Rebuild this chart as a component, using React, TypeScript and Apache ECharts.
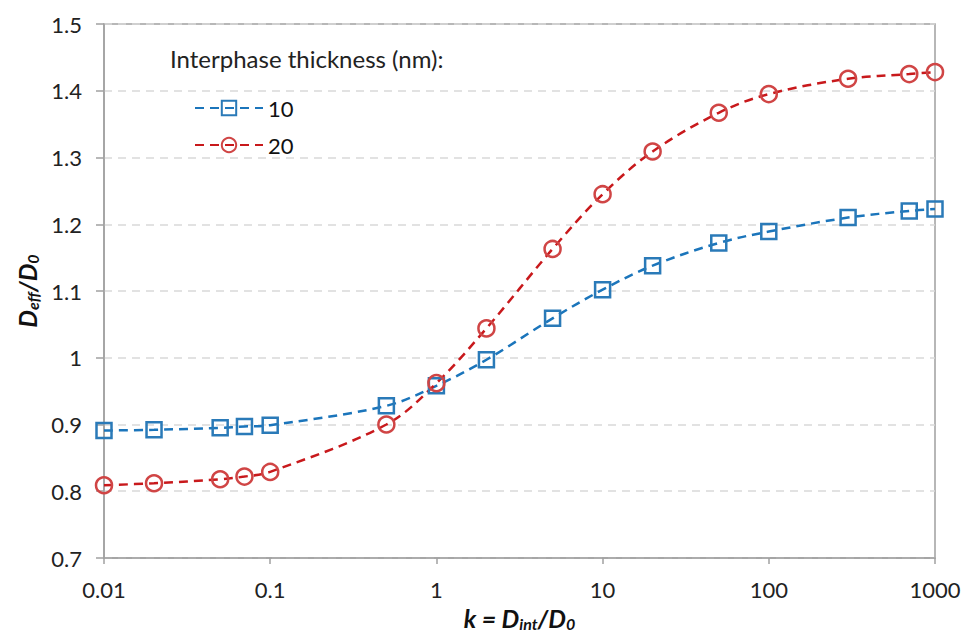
import React, { useEffect, useRef } from "react";
import * as echarts from "echarts";

const kValues = [0.01, 0.02, 0.05, 0.07, 0.1, 0.5, 1, 2, 5, 10, 20, 50, 100, 300, 700, 1000];
const series10 = [0.891, 0.892, 0.895, 0.897, 0.899, 0.928, 0.958, 0.997, 1.059, 1.102, 1.138, 1.172, 1.189, 1.21, 1.22, 1.223];
const series20 = [0.809, 0.812, 0.818, 0.822, 0.829, 0.9, 0.962, 1.044, 1.163, 1.245, 1.309, 1.367, 1.395, 1.418, 1.425, 1.428];
const seriesNames = ["10", "20"];
const legendTitle = "Interphase thickness (nm):";

const FONT = "Lato, 'Liberation Sans', sans-serif";
const BLUE_LINE = "#1b75bb";
const BLUE_MARK = "#2a7ab8";
const RED_LINE = "#c8191c";
const RED_MARK = "#d04545";

const titleRich = {
  b: { fontFamily: FONT, fontSize: 25, fontWeight: "bold", fontStyle: "italic", color: "#111", verticalAlign: "top", lineHeight: 26 },
  s: { fontFamily: FONT, fontSize: 16, fontWeight: "bold", fontStyle: "italic", color: "#111", verticalAlign: "bottom", lineHeight: 16, padding: [11, 0, 0, 0] },
};

export default function App() {
  const ref = useRef<HTMLDivElement>(null);
  useEffect(() => {
    if (!ref.current) return;
    const chart = echarts.init(ref.current, undefined, { renderer: "svg" });
    const mk = (arr: number[]) => kValues.map((k, i) => [k, arr[i]]);
    chart.setOption({
      animation: false,
      backgroundColor: "#ffffff",
      textStyle: { fontFamily: FONT },
      grid: { left: 104, right: 27, top: 24, bottom: 75, outerBoundsMode: "none", containLabel: false },
      title: {
        text: legendTitle,
        left: 170,
        top: 46,
        padding: 0,
        textStyle: { fontFamily: FONT, fontSize: 24, fontWeight: "normal", color: "#222" },
      },
      legend: {
        orient: "vertical",
        left: 194,
        top: 97,
        padding: 0,
        itemWidth: 68,
        itemHeight: 18,
        itemGap: 15,
        data: seriesNames,
        textStyle: { fontFamily: FONT, fontSize: 22, color: "#111" },
      },
      xAxis: {
        type: "log",
        logBase: 10,
        min: 0.01,
        max: 1000,
        name: "{b|k = D}{s|int}{b|/D}{s|0}",
        nameLocation: "middle",
        nameGap: 35,
        nameTextStyle: { rich: titleRich },
        axisLine: { show: true, lineStyle: { color: "#a0a0a0", width: 1.5 } },
        axisTick: { show: true, length: 6, lineStyle: { color: "#a0a0a0", width: 1.5 } },
        minorTick: { show: false },
        splitLine: { show: false },
        axisLabel: {
          fontFamily: FONT,
          fontSize: 22,
          color: "#222",
          margin: 20,
          formatter: (v: number) => String(v),
        },
      },
      yAxis: {
        type: "value",
        min: 0.7,
        max: 1.5,
        interval: 0.1,
        name: "{b|D}{s|eff}{b|/D}{s|0}",
        nameLocation: "middle",
        nameRotate: 90,
        nameGap: 60,
        nameTextStyle: { rich: titleRich },
        axisLine: { show: true, lineStyle: { color: "#a0a0a0", width: 1.5 } },
        axisTick: { show: true, length: 8, lineStyle: { color: "#a0a0a0", width: 1.5 } },
        splitLine: { show: true, lineStyle: { color: "#d9d9d9", type: [8, 6], width: 1.5 } },
        axisLabel: {
          fontFamily: FONT,
          fontSize: 22,
          color: "#222",
          margin: 22,
          formatter: (v: number) => String(Math.round(v * 10) / 10),
        },
      },
      graphic: [
        {
          type: "rect",
          shape: { x: 104, y: 24, width: 962 - 27 - 104, height: 633 - 75 - 24 },
          style: { fill: "none", stroke: "#a0a0a0", lineWidth: 1.5 },
          silent: true,
          z: -1,
        },
      ],
      series: [
        {
          name: seriesNames[0],
          type: "line",
          data: mk(series10),
          smooth: 0.35,
          symbol: "rect",
          symbolSize: 15,
          lineStyle: { color: BLUE_LINE, width: 2.5, type: [9, 6] },
          itemStyle: { color: "rgba(0,0,0,0)", borderColor: BLUE_MARK, borderWidth: 2.5 },
          z: 3,
        },
        {
          name: seriesNames[1],
          type: "line",
          data: mk(series20),
          smooth: 0.35,
          symbol: "circle",
          symbolSize: 16,
          lineStyle: { color: RED_LINE, width: 2.5, type: [9, 6] },
          itemStyle: { color: "rgba(0,0,0,0)", borderColor: RED_MARK, borderWidth: 2.5 },
          z: 3,
        },
      ],
    });
    return () => chart.dispose();
  }, []);
  return <div ref={ref} style={{ width: 962, height: 633, position: "absolute", left: 0, top: 0 }} />;
}
